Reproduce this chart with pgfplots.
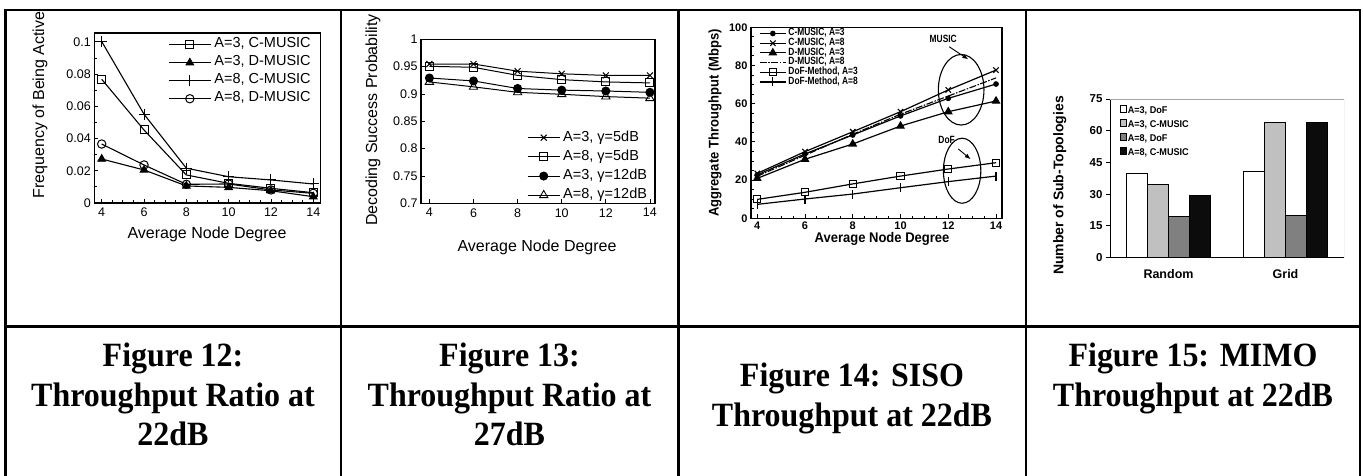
\documentclass[border=0pt]{standalone}
\usepackage{fontspec}
\setmainfont{Liberation Sans}
\newfontfamily\capfont[FakeStretch=0.94]{Liberation Serif}
\newfontfamily\narrowsans[FakeStretch=0.8]{Liberation Sans}
\newfontfamily\semisans[FakeStretch=0.93]{Liberation Sans}
\usepackage{pgfplots}
\pgfplotsset{compat=1.18}
\usetikzlibrary{arrows.meta}
\newcommand\fsz[1]{\fontsize{#1}{#1}\selectfont}
\definecolor{lgray}{RGB}{192,192,192}
\definecolor{mgray}{RGB}{128,128,128}
\definecolor{dblack}{RGB}{12,12,12}
\definecolor{frame}{RGB}{165,165,165}
\pgfplotsset{
  /pgf/number format/assume math mode=true,
  every axis/.append style={scale only axis},
}
\begin{document}
\begin{tikzpicture}[x=1pt,y=1pt]
\path[use as bounding box] (0,0) rectangle (1363,476);
\fill[white] (0,0) rectangle (1363,476);

% ---------------- Figure 12 ----------------
\begin{axis}[
  at={(94.3pt,273pt)}, anchor=south west,
  width=226.4pt, height=170pt,
  xmin=3.65, xmax=14.35, ymin=0, ymax=0.1055,
  xtick={4,6,8,10,12,14},
  ytick={0,0.02,0.04,0.06,0.08,0.1},
  yticklabels={0,0.02,0.04,0.06,0.08,0.1},
  minor x tick num=3, minor y tick num=1,
  tick align=inside, xtick pos=bottom, ytick pos=left,
  major tick length=4pt, minor tick length=2.5pt,
  axis line style={line width=1.1pt},
  every tick/.style={black, line width=0.8pt},
  tick label style={font=\fsz{12.5}},
  xticklabel style={yshift=-1.5pt},
  xlabel={Average Node Degree}, ylabel={Frequency of Being Active},
  label style={font=\fsz{16}},
  xlabel style={at={(0.498,-0.182)}, anchor=center},
  ylabel style={at={(-0.24,0.576)}, anchor=center},
  legend cell align=left,
  legend image code/.code={\draw[mark repeat=2,mark phase=2,#1] plot coordinates {(0pt,0pt) (21pt,0pt) (42pt,0pt)};},
  legend style={draw=none, fill=none, at={(0.326,0.985)}, anchor=north west,
    inner sep=0pt, font=\fsz{14.5}, row sep=0pt,
    nodes={inner sep=0pt, text height=12pt, text depth=6pt},
    /tikz/every odd column/.append style={column sep=3pt}},
]
\addplot[black, line width=1.1pt, mark=square, mark size=4pt, mark options={fill=white, line width=1pt}]
  coordinates {(4,0.0768) (6,0.0453) (8,0.0174) (10,0.0122) (12,0.0091) (14,0.0064)};
\addlegendentry{A=3, C-MUSIC}
\addplot[black, line width=1.1pt, mark=triangle*, mark size=4.5pt, mark options={line width=0.8pt}]
  coordinates {(4,0.0273) (6,0.0205) (8,0.0106) (10,0.0097) (12,0.0076) (14,0.0039)};
\addlegendentry{A=3, D-MUSIC}
\addplot[black, line width=1.1pt, mark=+, mark size=5.5pt, mark options={line width=1pt}]
  coordinates {(4,0.1002) (6,0.0551) (8,0.0216) (10,0.0163) (12,0.0143) (14,0.0118)};
\addlegendentry{A=8, C-MUSIC}
\addplot[black, line width=1.1pt, mark=o, mark size=4.2pt, mark options={fill=white, line width=1pt}]
  coordinates {(4,0.0366) (6,0.0236) (8,0.0116) (10,0.0118) (12,0.0081) (14,0.0060)};
\addlegendentry{A=8, D-MUSIC}
\end{axis}

% ---------------- Figure 13 ----------------
\begin{axis}[
  at={(421pt,272.7pt)}, anchor=south west,
  width=234pt, height=164pt,
  xmin=3.62, xmax=14.23, ymin=0.7, ymax=1,
  xtick={4,6,8,10,12,14},
  ytick={0.7,0.75,0.8,0.85,0.9,0.95,1},
  yticklabels={0.7,0.75,0.8,0.85,0.9,0.95,1},
  tick align=inside, xtick pos=bottom, ytick pos=left,
  major tick length=4pt,
  axis line style={line width=1.1pt},
  every tick/.style={black, line width=0.8pt},
  tick label style={font=\fsz{12.5}},
  xticklabel style={yshift=-1.5pt},
  xlabel={Average Node Degree}, ylabel={Decoding Success Probability},
  label style={font=\fsz{16}},
  xlabel style={at={(0.496,-0.267)}, anchor=center},
  ylabel style={at={(-0.205,0.508)}, anchor=center},
  legend cell align=left,
  legend image code/.code={\draw[mark repeat=2,mark phase=2,#1] plot coordinates {(0pt,0pt) (16pt,0pt) (32pt,0pt)};},
  legend style={draw=none, fill=none, at={(0.453,0.46)}, anchor=north west,
    inner sep=0pt, font=\fsz{14.5}, row sep=0pt,
    nodes={inner sep=0pt, text height=13pt, text depth=6.2pt},
    /tikz/every odd column/.append style={column sep=3pt}},
]
\addplot[black, line width=1pt, mark=x, mark size=4.2pt, mark options={line width=1pt}]
  coordinates {(4,0.9548) (6,0.9548) (8,0.9417) (10,0.9369) (12,0.9339) (14,0.9339)};
\addlegendentry{A=3, γ=5dB}
\addplot[black, line width=1pt, mark=square, mark size=4pt, mark options={fill=white, line width=1pt}]
  coordinates {(4,0.9506) (6,0.9488) (8,0.9340) (10,0.9262) (12,0.9220) (14,0.9202)};
\addlegendentry{A=8, γ=5dB}
\addplot[black, line width=1pt, mark=*, mark size=4pt]
  coordinates {(4,0.9292) (6,0.9238) (8,0.9100) (10,0.9070) (12,0.9054) (14,0.9030)};
\addlegendentry{A=3, γ=12dB}
\addplot[black, line width=1pt, mark=triangle, mark size=4.8pt, mark options={fill=white, line width=0.9pt}]
  coordinates {(4,0.9220) (6,0.9130) (8,0.9030) (10,0.8994) (12,0.8952) (14,0.8923)};
\addlegendentry{A=8, γ=12dB}
\end{axis}

% ---------------- Figure 14 ----------------
\begin{axis}[
  at={(751pt,257.7pt)}, anchor=south west,
  width=251pt, height=191pt,
  xmin=3.74, xmax=14.25, ymin=0, ymax=100,
  xtick={4,6,8,10,12,14},
  ytick={0,20,40,60,80,100},
  minor x tick num=3, minor y tick num=3,
  tick align=inside, xtick pos=bottom, ytick pos=left,
  major tick length=4pt, minor tick length=2.5pt,
  axis line style={line width=1.2pt},
  every tick/.style={black, line width=0.9pt},
  tick label style={font=\bfseries\fsz{11}},
  xlabel={Average Node Degree}, ylabel={Aggregate Throughput (Mbps)},
  label style={font=\semisans\bfseries\fsz{14}},
  xlabel style={at={(0.522,-0.108)}, anchor=center},
  ylabel style={at={(-0.143,0.499)}, anchor=center},
  legend cell align=left,
  legend image code/.code={\draw[mark repeat=2,mark phase=2,#1] plot coordinates {(0pt,0pt) (13pt,0pt) (26pt,0pt)};},
  legend style={draw=none, fill=none, at={(0.032,0.994)}, anchor=north west,
    inner sep=0pt, font=\narrowsans\bfseries\fsz{10.5}, row sep=0pt,
    nodes={inner sep=0pt, text height=7.2pt, text depth=2.5pt},
    /tikz/every odd column/.append style={column sep=2pt}},
]
\addplot[black, line width=1.2pt, mark=*, mark size=2.2pt]
  coordinates {(4,22.7) (6,33.7) (8,43.6) (10,53.6) (12,62.8) (14,70.3)};
\addlegendentry{C-MUSIC, A=3}
\addplot[black, line width=1.2pt, mark=x, mark size=3.8pt, mark options={line width=1.1pt}]
  coordinates {(4,23.5) (6,34.9) (8,45.3) (10,55.8) (12,67.2) (14,77.6)};
\addlegendentry{C-MUSIC, A=8}
\addplot[black, line width=1.2pt, mark=triangle*, mark size=4pt]
  coordinates {(4,20.9) (6,30.9) (8,38.9) (10,48.3) (12,55.8) (14,61.4)};
\addlegendentry{D-MUSIC, A=3}
\addplot[black, line width=1.1pt, dash pattern=on 7pt off 1.5pt on 1.5pt off 1.5pt]
  coordinates {(4,22.0) (6,33.0) (8,44.0) (10,54.5) (12,64.0) (14,73.5)};
\addlegendentry{D-MUSIC, A=8}
\addplot[black, line width=1.2pt, mark=square, mark size=3.6pt, mark options={fill=white, line width=1pt, solid}]
  coordinates {(4,9.9) (6,13.6) (8,18.0) (10,22.1) (12,25.8) (14,29.1)};
\addlegendentry{DoF-Method, A=3}
\addplot[black, line width=1.2pt, mark=|, mark size=4.5pt, mark options={line width=1.1pt}]
  coordinates {(4,7.3) (6,10.1) (8,12.7) (10,16.0) (12,19.2) (14,22.1)};
\addlegendentry{DoF-Method, A=8}
% group markers
\draw[line width=1.1pt] (axis cs:12.54,67.3) ellipse [x radius=22.8pt, y radius=35.3pt];
\draw[line width=1.1pt] (axis cs:12.58,24.9) ellipse [x radius=18.7pt, y radius=32.5pt];
\node[font=\narrowsans\bfseries\fsz{10.5}] at (axis cs:11.79,93.7) {MUSIC};
\node[font=\narrowsans\bfseries\fsz{10.5}] at (axis cs:11.93,41.0) {DoF};
\draw[line width=0.9pt, -{Latex[length=6pt,width=4.5pt]}] (axis cs:12.04,89.8) -- (axis cs:12.84,83.2);
\draw[line width=0.9pt, -{Latex[length=6pt,width=4.5pt]}] (axis cs:12.42,36.3) -- (axis cs:12.94,30.9);
\end{axis}

% ---------------- Figure 15 ----------------
\begin{axis}[
  at={(1110pt,218.5pt)}, anchor=south west,
  width=234pt, height=158.5pt,
  ybar=0pt, bar width=21pt,
  xmin=0.5, xmax=2.5, ymin=0, ymax=75,
  axis lines*=left,
  xtick={1,2}, xticklabels={Random,Grid},
  ytick={0,15,30,45,60,75},
  tick align=outside, major tick length=4pt,
  x axis line style={line width=0.9pt}, y axis line style={line width=0.9pt},
  xtick style={draw=none},
  ytick style={black, line width=0.8pt},
  tick label style={font=\bfseries\fsz{11.5}},
  xticklabel style={font=\bfseries\fsz{12.5}, yshift=-4pt},
  ylabel={Number of Sub-Topologies},
  label style={font=\bfseries\fsz{14}},
  ylabel style={at={(-0.215,0.454)}, anchor=center},
  legend cell align=left,
  legend style={draw=none, fill=none, at={(0.043,0.968)}, anchor=north west,
    inner sep=0pt, font=\semisans\bfseries\fsz{9.8}, row sep=0pt,
    nodes={inner sep=0pt, text height=9pt, text depth=5pt},
    /tikz/every odd column/.append style={column sep=1pt}},
]
\addplot[fill=white, draw=black, line width=0.6pt,
  legend image code/.code={\draw[fill=white,draw=black,line width=0.5pt] (0pt,-0.5pt) rectangle (6pt,6pt);}]
  coordinates {(1,40) (2,41)};
\addlegendentry{A=3, DoF}
\addplot[fill=lgray, draw=black, line width=0.6pt,
  legend image code/.code={\draw[fill=lgray,draw=black,line width=0.5pt] (0pt,-0.5pt) rectangle (6pt,6pt);}]
  coordinates {(1,34.5) (2,64)};
\addlegendentry{A=3, C-MUSIC}
\addplot[fill=mgray, draw=black, line width=0.6pt,
  legend image code/.code={\draw[fill=mgray,draw=black,line width=0.5pt] (0pt,-0.5pt) rectangle (6pt,6pt);}]
  coordinates {(1,19.5) (2,20)};
\addlegendentry{A=8, DoF}
\addplot[fill=dblack, draw=black, line width=0.6pt,
  legend image code/.code={\draw[fill=dblack,draw=black,line width=0.5pt] (0pt,-0.5pt) rectangle (6pt,6pt);}]
  coordinates {(1,29.5) (2,64)};
\addlegendentry{A=8, C-MUSIC}
% plot frame and category separators
\draw[frame, line width=0.9pt] (rel axis cs:0,1) -- (rel axis cs:1,1) -- (rel axis cs:1,0);
\draw[black, line width=0.8pt] (axis cs:0.5,0) -- ++(0,-4pt);
\draw[black, line width=0.8pt] (axis cs:1.5,0) -- ++(0,-4pt);
\draw[black, line width=0.8pt] (axis cs:2.5,0) -- ++(0,-4pt);
\end{axis}

% ---------------- table rules ----------------
\begin{scope}[line width=2.6pt, line cap=rect]
\draw (5.5,466) -- (1360,466);
\draw (5.5,149.5) -- (1360,149.5);
\foreach \xx in {5.5,341,678.5,1026,1360} \draw (\xx,466) -- (\xx,-6);
\end{scope}

% ---------------- captions ----------------
\begin{scope}[every node/.style={font=\capfont\bfseries\fsz{34}, anchor=base, inner sep=0pt}]
\node at (173,109.3) {Figure 12:};
\node at (173,69) {Throughput Ratio at};
\node at (173,30) {22dB};
\node at (509.5,109.3) {Figure 13:};
\node at (509.5,69) {Throughput Ratio at};
\node at (509.5,30) {27dB};
\node at (852,89.3) {Figure 14: SISO};
\node at (852,49.5) {Throughput at 22dB};
\node at (1193,109.3) {Figure 15: MIMO};
\node at (1193,69) {Throughput at 22dB};
\end{scope}
\end{tikzpicture}
\end{document}
